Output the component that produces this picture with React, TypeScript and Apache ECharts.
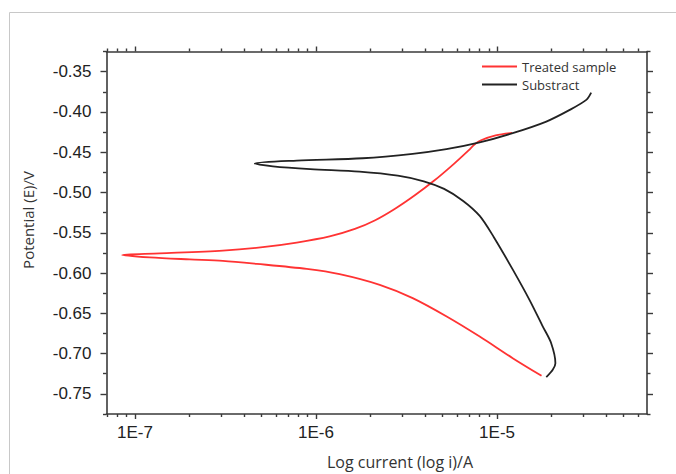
import React, { useEffect, useRef } from "react";
import * as echarts from "echarts";

// Treated sample: sweep from cathodic end -> corrosion potential -> anodic end
const treatedCurrent = [
  1.76e-5, 1.22e-5, 8.02e-6, 5.27e-6, 3.42e-6, 2.25e-6, 1.35e-6, 8.89e-7, 4.71e-7, 3.06e-7, 2.01e-7, 1.21e-7,
  8.51e-8,
  1.37e-7, 3.06e-7, 5.08e-7, 7.83e-7, 1.19e-6, 1.64e-6, 2.11e-6, 2.72e-6, 3.5e-6, 4.5e-6, 5.8e-6, 6.96e-6,
  7.5e-6, 8.1e-6, 9.82e-6, 1.21e-5,
];
const treatedPotential = [
  -0.7276, -0.7057, -0.6789, -0.654, -0.6312, -0.6147, -0.6014, -0.5949, -0.5886, -0.5849, -0.5831, -0.5806,
  -0.5775,
  -0.5756, -0.5721, -0.5679, -0.5622, -0.5546, -0.5453, -0.5348, -0.5205, -0.5038, -0.4852, -0.4641, -0.4477,
  -0.4405, -0.4355, -0.4292, -0.4261,
];

// Substract
const substrateCurrent = [
  1.87e-5, 2.03e-5, 2.1e-5, 1.99e-5, 1.79e-5, 1.51e-5, 1.224e-5, 9.6e-6, 8.02e-6, 6.5e-6, 5.1e-6, 3.94e-6,
  2.83e-6, 1.74e-6, 9.3e-7, 5.78e-7,
  4.59e-7,
  7.83e-7, 1.81e-6, 3.42e-6, 5.25e-6, 8.02e-6, 1.22e-5, 1.87e-5, 2.52e-5, 3.11e-5, 3.31e-5,
];
const substratePotential = [
  -0.7293, -0.7202, -0.7119, -0.6871, -0.6665, -0.6333, -0.5961, -0.5555, -0.5291, -0.5105, -0.4956, -0.4861,
  -0.4791, -0.4741, -0.4710, -0.4675,
  -0.4639,
  -0.4604, -0.4575, -0.4521, -0.4463, -0.4379, -0.4264, -0.412, -0.3975, -0.3851, -0.3761,
];

const seriesNames = ["Treated sample", "Substract"];

const xMajorTicks = [1e-7, 1e-6, 1e-5];
const xMinorTicks = [
  7e-8, 8e-8, 9e-8,
  2e-7, 3e-7, 4e-7, 5e-7, 6e-7, 7e-7, 8e-7, 9e-7,
  2e-6, 3e-6, 4e-6, 5e-6, 6e-6, 7e-6, 8e-6, 9e-6,
  2e-5, 3e-5, 4e-5, 5e-5, 6e-5,
];
const yMajorTicks = [-0.75, -0.7, -0.65, -0.6, -0.55, -0.5, -0.45, -0.4, -0.35];
const yMinorTicks = [-0.775, -0.725, -0.675, -0.625, -0.575, -0.525, -0.475, -0.425, -0.375, -0.325];

const X_MIN = 6.97e-8;
const X_MAX = 6.73e-5;
const Y_MIN = -0.775;
const Y_MAX = -0.325;

const AXIS_COLOR = "#3a3a3a";
const LABEL_FONT = "'Liberation Sans', Arial, sans-serif";
const TEXT_FONT = "'Open Sans', 'Noto Sans', sans-serif";

function xAxisDef(position: "top" | "bottom", major: boolean) {
  return {
    type: "log",
    logBase: 10,
    position,
    min: X_MIN,
    max: X_MAX,
    axisLine: { show: major, lineStyle: { color: AXIS_COLOR, width: 1.6 } },
    axisTick: {
      show: true,
      inside: false,
      length: major ? 5 : 3,
      customValues: major ? xMajorTicks : xMinorTicks,
      lineStyle: { color: AXIS_COLOR, width: 1.4 },
    },
    axisLabel: {
      show: major && position === "bottom",
      customValues: xMajorTicks,
      margin: 10,
      color: "#222",
      fontSize: 17,
      fontFamily: LABEL_FONT,
      formatter: (v: number) => "1E" + Math.round(Math.log10(v)),
    },
    splitLine: { show: false },
    minorTick: { show: false },
  };
}

function yAxisDef(position: "left" | "right", major: boolean) {
  return {
    type: "value",
    position,
    min: Y_MIN,
    max: Y_MAX,
    axisLine: { show: major, lineStyle: { color: AXIS_COLOR, width: 1.6 } },
    axisTick: {
      show: true,
      inside: false,
      length: major ? 6 : 3.5,
      customValues: major ? yMajorTicks : yMinorTicks,
      lineStyle: { color: AXIS_COLOR, width: 1.4 },
    },
    axisLabel: {
      show: major && position === "left",
      customValues: yMajorTicks,
      margin: 15,
      color: "#222",
      fontSize: 17,
      fontFamily: LABEL_FONT,
      formatter: (v: number) => v.toFixed(2),
    },
    splitLine: { show: false },
  };
}

export default function App() {
  const ref = useRef<HTMLDivElement>(null);

  useEffect(() => {
    if (!ref.current) return;
    const chart = echarts.init(ref.current, null, { renderer: "svg" });
    const option: any = {
      animation: false,
      backgroundColor: "#ffffff",
      grid: { left: 106.5, right: 29, top: 51.5, bottom: 60, containLabel: false },
      xAxis: [
        xAxisDef("bottom", true),
        xAxisDef("bottom", false),
        xAxisDef("top", true),
        xAxisDef("top", false),
      ],
      yAxis: [
        yAxisDef("left", true),
        yAxisDef("left", false),
        yAxisDef("right", true),
        yAxisDef("right", false),
      ],
      legend: {
        orient: "vertical",
        left: 482,
        top: 57.5,
        padding: 0,
        itemGap: 0,
        itemWidth: 35,
        itemHeight: 2.2,
        icon: "rect",
        data: seriesNames,
        textStyle: {
          color: "#333",
          fontSize: 13,
          lineHeight: 18,
          fontFamily: TEXT_FONT,
        },
      },
      series: [
        {
          name: seriesNames[0],
          type: "line",
          xAxisIndex: 0,
          yAxisIndex: 0,
          showSymbol: false,
          symbol: "none",
          smooth: 0.3,
          color: "#ff3333",
          lineStyle: { color: "#ff3333", width: 1.8 },
          data: treatedCurrent.map((c, i) => [c, treatedPotential[i]]),
        },
        {
          name: seriesNames[1],
          type: "line",
          xAxisIndex: 0,
          yAxisIndex: 0,
          showSymbol: false,
          symbol: "none",
          smooth: 0.3,
          color: "#222222",
          lineStyle: { color: "#222222", width: 1.8 },
          data: substrateCurrent.map((c, i) => [c, substratePotential[i]]),
        },
      ],
      graphic: [
        {
          type: "rect",
          silent: true,
          shape: { x: 9.5, y: 12.5, width: 700, height: 500 },
          style: { fill: "none", stroke: "#c8c8c8", lineWidth: 1 },
        },
        {
          type: "text",
          x: 27.5,
          y: 220,
          rotation: Math.PI / 2,
          style: {
            text: "Potential (E)/V",
            fill: "#333",
            fontSize: 15,
            fontFamily: TEXT_FONT,
            align: "center",
            verticalAlign: "middle",
          },
        },
        {
          type: "text",
          x: 400,
          y: 462,
          style: {
            text: "Log current (log i)/A",
            fill: "#333",
            fontSize: 16,
            fontFamily: TEXT_FONT,
            align: "center",
            verticalAlign: "middle",
          },
        },
      ],
    };
    chart.setOption(option);
    return () => chart.dispose();
  }, []);

  return (
    <div
      ref={ref}
      style={{ position: "fixed", left: 0, top: 0, width: 676, height: 474, background: "#fff" }}
    />
  );
}
